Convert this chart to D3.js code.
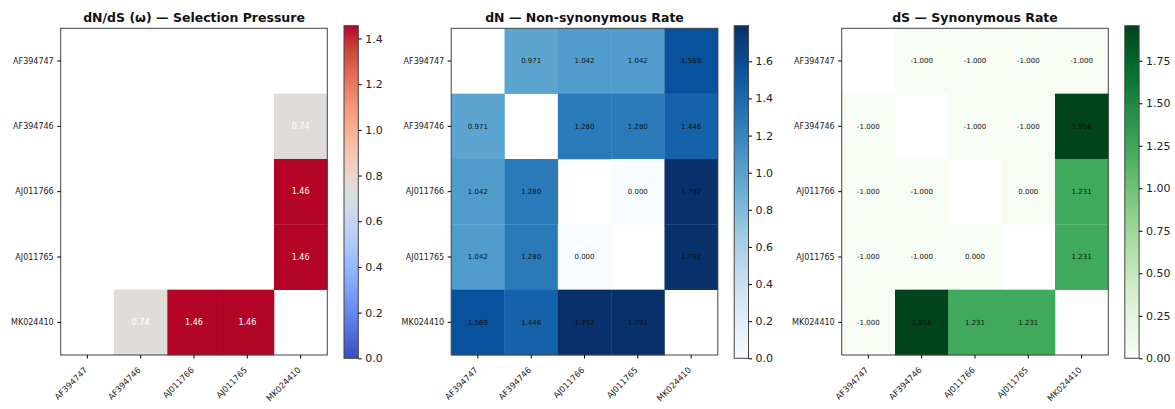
<!DOCTYPE html>
<html>
<head>
<meta charset="utf-8">
<script src="https://cdn.jsdelivr.net/npm/d3@7"></script>
<style>
  body { margin: 0; background: #fff; }
  text { font-family: "DejaVu Sans", sans-serif; }
</style>
</head>
<body>
<svg id="chart" width="1175" height="409"></svg>
<script>
// sequence ids, same order on both axes
var seqs = ["AF394747", "AF394746", "AJ011766", "AJ011765", "MK024410"];

// dN/dS, blank where dS <= 0 or on the diagonal
var omegaVals = [
  [null, null, null, null, null],
  [null, null, null, null, 0.739],
  [null, null, null, null, 1.456],
  [null, null, null, null, 1.456],
  [null, 0.739, 1.456, 1.456, null]
];

var dnVals = [
  [null, 0.971, 1.042, 1.042, 1.569],
  [0.971, null, 1.280, 1.280, 1.446],
  [1.042, 1.280, null, 0.000, 1.792],
  [1.042, 1.280, 0.000, null, 1.792],
  [1.569, 1.446, 1.792, 1.792, null]
];

var dsVals = [
  [null, -1.000, -1.000, -1.000, -1.000],
  [-1.000, null, -1.000, -1.000, 1.956],
  [-1.000, -1.000, null, 0.000, 1.231],
  [-1.000, -1.000, 0.000, null, 1.231],
  [-1.000, 1.956, 1.231, 1.231, null]
];

var omegaTicks = [0.0, 0.2, 0.4, 0.6, 0.8, 1.0, 1.2, 1.4];
var dnTicks = [0.0, 0.2, 0.4, 0.6, 0.8, 1.0, 1.2, 1.4, 1.6];
var dsTicks = [0.00, 0.25, 0.50, 0.75, 1.00, 1.25, 1.50, 1.75];

// matplotlib-like colormaps
var coolwarmStops = ["#3b4cc0", "#4d68d7", "#6282ea", "#779af7", "#8db0fe", "#a3c2ff",
  "#b8d0f9", "#ccd9ee", "#dddddd", "#ecd3c5", "#f5c4ad", "#f7b194", "#f49a7b",
  "#ec7f63", "#de604d", "#cb3e38", "#b40426"];
var cmapCoolwarm = d3.piecewise(d3.interpolateRgb, coolwarmStops);
var cmapBlues = d3.piecewise(d3.interpolateRgb, d3.schemeBlues[9]);
var cmapGreens = d3.piecewise(d3.interpolateRgb, d3.schemeGreens[9]);

var svg = d3.select("#chart");
svg.append("rect").attr("width", 1175).attr("height", 409).attr("fill", "#fff");

var top_ = 28.3, bottom_ = 355, axW = 266.6;
var cbTop = 25.7, cbBottom = 358.3, cbW = 14.3;

// plain hyphen instead of d3's unicode minus
function fmt(spec) {
  var f = d3.format(spec);
  return function(v) { return f(v).replace("\u2212", "-"); };
}

function flatten(vals) {
  var out = [];
  vals.forEach(function(row, i) {
    row.forEach(function(v, j) {
      if (v != null) out.push({r: seqs[i], c: seqs[j], v: v});
    });
  });
  return out;
}

function drawPanel(o) {
  var g = svg.append("g");
  var x = d3.scaleBand().domain(seqs).range([o.left, o.left + axW]);
  var y = d3.scaleBand().domain(seqs).range([top_, bottom_]);
  var vmax = d3.max(o.values, function(r) { return d3.max(r); });
  var norm = d3.scaleLinear().domain([0, vmax]).range([0, 1]).clamp(true);
  var cells = flatten(o.values);

  g.selectAll("rect.cell").data(cells).enter().append("rect")
    .attr("class", "cell")
    .attr("x", function(d) { return x(d.c); })
    .attr("y", function(d) { return y(d.r); })
    .attr("width", x.bandwidth() + 0.3)
    .attr("height", y.bandwidth() + 0.3)
    .attr("fill", function(d) { return o.cmap(norm(d.v)); });

  g.selectAll("text.val").data(cells).enter().append("text")
    .attr("class", "val")
    .attr("x", function(d) { return x(d.c) + x.bandwidth() / 2; })
    .attr("y", function(d) { return y(d.r) + y.bandwidth() / 2; })
    .attr("dy", "0.35em")
    .attr("text-anchor", "middle")
    .attr("font-size", o.cellSize)
    .attr("fill", o.textColor)
    .text(function(d) { return fmt(o.cellFmt)(d.v); });

  // frame
  g.append("rect")
    .attr("x", o.left).attr("y", top_)
    .attr("width", axW).attr("height", bottom_ - top_)
    .attr("fill", "none").attr("stroke", "#444").attr("stroke-width", 1);

  var ya = g.append("g")
    .attr("transform", "translate(" + o.left + ",0)")
    .call(d3.axisLeft(y).tickSize(3.5).tickPadding(3.5));
  ya.select(".domain").remove();
  ya.attr("font-family", null).attr("font-size", 8);
  ya.selectAll("text").attr("fill", "#222");

  var xa = g.append("g")
    .attr("transform", "translate(0," + bottom_ + ")")
    .call(d3.axisBottom(x).tickSize(3.5));
  xa.select(".domain").remove();
  xa.attr("font-family", null).attr("font-size", 8.3);
  xa.selectAll("text")
    .attr("y", null).attr("dy", null)
    .attr("fill", "#222")
    .attr("text-anchor", "end")
    .attr("transform", "translate(0.5,15.5) rotate(-45)");

  // title
  g.append("text")
    .attr("x", o.left + axW / 2).attr("y", 21.5)
    .attr("text-anchor", "middle")
    .attr("font-size", 12.5).attr("font-weight", "bold")
    .attr("fill", "#111")
    .text(o.title);

  // colorbar
  var gid = "grad" + o.id;
  var grad = svg.append("defs").append("linearGradient")
    .attr("id", gid).attr("x1", 0).attr("y1", 1).attr("x2", 0).attr("y2", 0);
  d3.range(0, 1.0001, 0.02).forEach(function(t) {
    grad.append("stop").attr("offset", t).attr("stop-color", o.cmap(t));
  });
  g.append("rect")
    .attr("x", o.cbLeft).attr("y", cbTop)
    .attr("width", cbW).attr("height", cbBottom - cbTop)
    .attr("fill", "url(#" + gid + ")")
    .attr("stroke", "#444").attr("stroke-width", 1);

  var cs = d3.scaleLinear().domain([0, vmax]).range([cbBottom, cbTop]);
  var ca = g.append("g")
    .attr("transform", "translate(" + (o.cbLeft + cbW) + ",0)")
    .call(d3.axisRight(cs).tickValues(o.ticks).tickFormat(fmt(o.tickFmt))
      .tickSize(3.5).tickPadding(3.5));
  ca.select(".domain").remove();
  ca.attr("font-family", null).attr("font-size", 11);
  ca.selectAll("text").attr("fill", "#222");
}

drawPanel({id: 1, left: 60.7, cbLeft: 344, title: "dN/dS (ω) — Selection Pressure",
  values: omegaVals, cmap: cmapCoolwarm, ticks: omegaTicks, tickFmt: ".1f",
  cellFmt: ".2f", cellSize: 8, textColor: "#fff"});
drawPanel({id: 2, left: 451.2, cbLeft: 734.2, title: "dN — Non-synonymous Rate",
  values: dnVals, cmap: cmapBlues, ticks: dnTicks, tickFmt: ".1f",
  cellFmt: ".3f", cellSize: 7, textColor: "#111"});
drawPanel({id: 3, left: 841.7, cbLeft: 1124.8, title: "dS — Synonymous Rate",
  values: dsVals, cmap: cmapGreens, ticks: dsTicks, tickFmt: ".2f",
  cellFmt: ".3f", cellSize: 7, textColor: "#111"});
</script>
</body>
</html>
